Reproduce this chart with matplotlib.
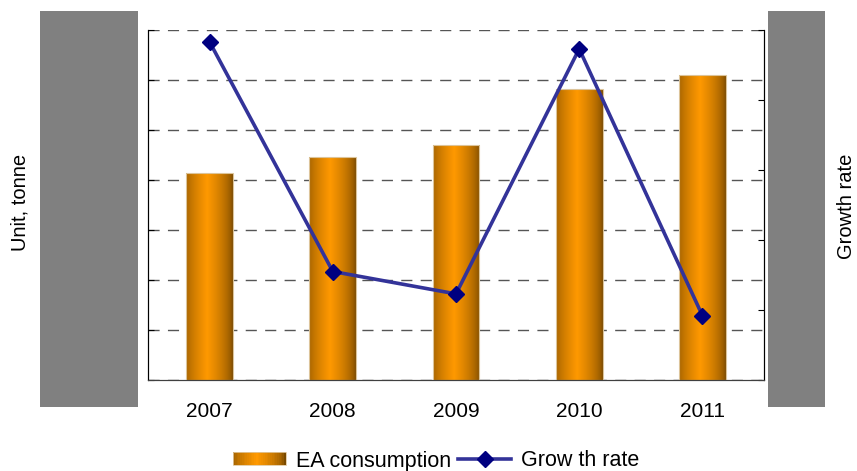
import numpy as np
import matplotlib
matplotlib.use('Agg')
import matplotlib.pyplot as plt
from matplotlib.patches import Rectangle
from matplotlib.lines import Line2D
from matplotlib.legend_handler import HandlerBase

plt.rcParams['font.family'] = ['Liberation Sans', 'DejaVu Sans']

years = ['2007', '2008', '2009', '2010', '2011']
consumption = [4.14, 4.47, 4.71, 5.83, 6.10]     # left axis, units hidden
growth_rate = [4.83, 1.55, 1.23, 4.73, 0.92]     # right axis, units hidden

BAR_W = 0.38


def gradient_colors(n=64):
    # dark brown edges, bright orange centre
    t = np.linspace(0, 1, n)
    k = np.clip(1 - np.abs(t - 0.45) / 0.55, 0, 1) ** 0.6
    dark = np.array([0.48, 0.29, 0.0])
    light = np.array([1.0, 0.60, 0.0])
    return dark + (light - dark) * k[:, None]


class GradientHandler(HandlerBase):
    def create_artists(self, legend, orig_handle, xdescent, ydescent,
                       width, height, fontsize, trans):
        cols = gradient_colors(30)
        w = width / len(cols)
        arts = []
        for i, c in enumerate(cols):
            arts.append(Rectangle((-xdescent + i * w, -ydescent), w * 1.05, height,
                                  facecolor=c, edgecolor='none', transform=trans))
        arts.append(Rectangle((-xdescent, -ydescent), width, height, facecolor='none',
                              edgecolor='#e0c8a0', lw=0.6, transform=trans))
        return arts


fig = plt.figure(figsize=(8.57, 4.71), dpi=100)
ax = fig.add_axes([148 / 857, 1 - 380 / 471, (764 - 148) / 857, 350 / 471])
ax2 = ax.twinx()

x = np.arange(len(years))
bars = ax.bar(x, consumption, BAR_W, facecolor='none', edgecolor='#dcc49a', lw=0.8, zorder=3)
grad = gradient_colors()[None, :, :]
for b in bars:
    im = ax.imshow(grad, extent=(b.get_x(), b.get_x() + b.get_width(), 0, b.get_height()),
                   aspect='auto', zorder=2, interpolation='bilinear')
    im.set_clip_path(b)

ax.set_xlim(-0.5, len(years) - 0.5)
ax.set_ylim(0, 7)
ax.set_yticks(range(8))
ax.set_yticklabels([])
ax.set_xticks(x)
ax.set_xticklabels(years, fontsize=15)
ax.tick_params(axis='x', length=0, pad=16)
ax.tick_params(axis='y', direction='in', length=4, color='black')
ax.yaxis.grid(True, linestyle=(0, (8, 6)), color='#555555', lw=1)
ax.set_axisbelow(True)

ax2.plot(x, growth_rate, color='#333399', lw=2.6, marker='D', markersize=8,
         markerfacecolor='#000080', markeredgecolor='#000080', zorder=5)
ax2.set_ylim(0, 5)
ax2.set_yticks(range(6))
ax2.set_yticklabels([])
ax2.tick_params(axis='y', direction='in', length=4, color='black')

for a in (ax, ax2):
    a.spines['top'].set_visible(False)
    a.spines['left'].set_color('black')
    a.spines['right'].set_color('black')
    a.spines['bottom'].set_color('#404040')

# grey redaction boxes over the value labels
fig.patches.append(Rectangle((40 / 857, 1 - 407 / 471), 98 / 857, 396 / 471,
                             transform=fig.transFigure, facecolor='#808080',
                             edgecolor='none'))
fig.patches.append(Rectangle((768 / 857, 1 - 407 / 471), 57 / 857, 396 / 471,
                             transform=fig.transFigure, facecolor='#808080',
                             edgecolor='none'))

fig.text(20 / 857, 1 - 202 / 471, 'Unit, tonne', rotation=90, ha='center', va='center',
         fontsize=14.5)
fig.text(847 / 857, 1 - 206 / 471, 'Growth rate', rotation=90, ha='center', va='center',
         fontsize=14.5)

bar_handle = Rectangle((0, 0), 1, 1)
line_handle = Line2D([], [], color='#333399', lw=2.6, marker='D', markersize=8,
                     markerfacecolor='#000080', markeredgecolor='#000080')
fig.legend([bar_handle, line_handle], ['EA consumption', 'Grow th rate'],
           handler_map={Rectangle: GradientHandler()},
           loc='center', bbox_to_anchor=(436 / 857, 1 - 461 / 471), ncol=2,
           frameon=False, fontsize=15.5, handlelength=2.45, handleheight=0.55,
           handletextpad=0.45, columnspacing=0.35, borderpad=0)

fig.savefig('out.png', dpi=100)
